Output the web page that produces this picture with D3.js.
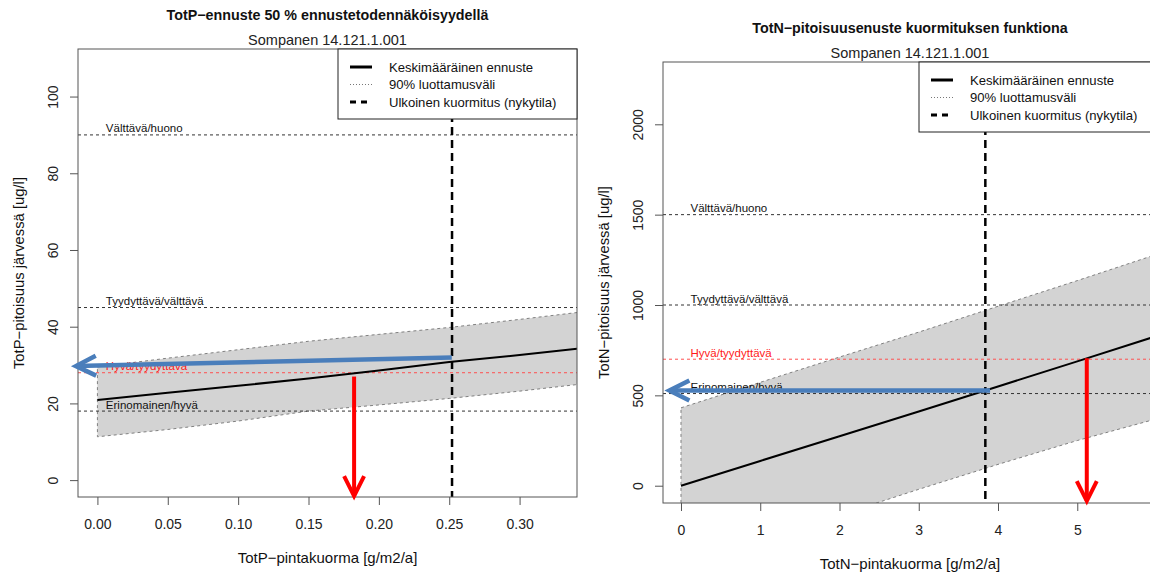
<!DOCTYPE html>
<html>
<head>
<meta charset="utf-8">
<script src="https://cdn.jsdelivr.net/npm/d3@7"></script>
<style>
  body { margin: 0; background: #fff; }
  svg { display: block; font-family: "Liberation Sans", Arial, sans-serif; }
</style>
</head>
<body>
<svg id="chart" width="1150" height="574"></svg>
<script>
// --- TotP: ennuste pintakuorman funktiona ---
const pLoad = [0, 0.05, 0.10, 0.15, 0.20, 0.25, 0.30, 0.35];
const pMean = [20.9, 22.8, 24.6, 26.5, 28.6, 30.8, 32.6, 34.6];
const pLow  = [11.3, 13.2, 15.4, 18.0, 19.6, 21.3, 23.2, 25.3];
const pHigh = [29.5, 31.8, 34.0, 36.2, 38.0, 39.8, 41.9, 44.1];
const pLimits = [18, 28, 45, 90];
const pCurrent = 0.252;
const pXTicks = [0, 0.05, 0.10, 0.15, 0.20, 0.25, 0.30];
const pYTicks = [0, 20, 40, 60, 80, 100];
const pBlueArrow = [[0.2518, 32.0], [-0.0181, 29.7]];
const pRedArrow  = [[0.1824, 27.0], [0.1824, -5.2]];

// --- TotN ---
const nLoad = [0, 1, 2, 3, 4, 5, 6];
const nMean = [0, 137, 274, 411, 549, 688, 828];
const nLow  = [-440, -300, -162, -20, 118, 250, 370];
const nHigh = [431, 572, 712, 850, 993, 1135, 1280];
const nLimits = [510, 700, 1000, 1500];
const nCurrent = 3.84;
const nXTicks = [0, 1, 2, 3, 4, 5];
const nYTicks = [0, 500, 1000, 1500, 2000];
const nBlueArrow = [[3.9, 527], [-0.197, 527]];
const nRedArrow  = [[5.12, 705], [5.12, -107]];

const classNames = ["Erinomainen/hyvä", "Hyvä/tyydyttävä", "Tyydyttävä/välttävä", "Välttävä/huono"];
const legendLabels = ["Keskimääräinen ennuste", "90% luottamusväli", "Ulkoinen kuormitus (nykytila)"];

const svg = d3.select("#chart");

function arrow(g, from, to, color, width) {
  const [x1, y1] = from, [x2, y2] = to;
  const a = Math.atan2(y2 - y1, x2 - x1);
  const dx = Math.cos(a), dy = Math.sin(a);
  const tx = x2 - 4 * dx, ty = y2 - 4 * dy;   // miter pokes out past the vertex
  const bx = tx - 20 * dx, by = ty - 20 * dy;
  g.append("line").attr("x1", x1).attr("y1", y1).attr("x2", tx).attr("y2", ty)
    .attr("stroke", color).attr("stroke-width", width);
  g.append("path")
    .attr("d", `M${bx - 10 * dy},${by + 10 * dx}L${tx},${ty}L${bx + 10 * dy},${by - 10 * dx}`)
    .attr("fill", "none").attr("stroke", color).attr("stroke-width", width)
    .attr("stroke-linejoin", "miter");
}

function drawPanel(p) {
  const g = svg.append("g");
  const x = d3.scaleLinear().domain(p.xDomain).range([p.box.l, p.box.r]);
  const y = d3.scaleLinear().domain(p.yDomain).range([p.box.b, p.box.t]);
  const cx = (p.box.l + p.box.r) / 2;

  svg.append("clipPath").attr("id", "clip-" + p.id).append("rect")
    .attr("x", p.box.l).attr("y", p.box.t)
    .attr("width", p.box.r - p.box.l).attr("height", p.box.b - p.box.t);
  const plot = g.append("g").attr("clip-path", `url(#clip-${p.id})`);

  const rows = p.load.map((v, i) => ({ x: v, mean: p.mean[i], low: p.low[i], high: p.high[i] }));

  // luottamusväli
  const band = rows.map(d => [x(d.x), y(d.high)])
    .concat(rows.slice().reverse().map(d => [x(d.x), y(d.low)]));
  plot.append("path").attr("d", d3.line()(band) + "Z")
    .attr("fill", "#d3d3d3").attr("stroke", "#808080")
    .attr("stroke-width", 1).attr("stroke-dasharray", "3,3");

  // luokkarajat
  p.limits.forEach((v, i) => {
    const red = i === 1;
    plot.append("line")
      .attr("x1", p.box.l).attr("x2", p.box.r).attr("y1", y(v)).attr("y2", y(v))
      .attr("stroke", red ? "#ff5050" : "#333").attr("stroke-width", 1)
      .attr("stroke-dasharray", "3,3");
    g.append("text").attr("x", x(p.labelX)).attr("y", y(v) - 2.5)
      .attr("font-size", 11.5).attr("fill", red ? "#ff1a1a" : "#111")
      .text(classNames[i]);
  });

  // keskimääräinen ennuste
  plot.append("path").datum(rows)
    .attr("d", d3.line().x(d => x(d.x)).y(d => y(d.mean)))
    .attr("fill", "none").attr("stroke", "#000").attr("stroke-width", 2);

  // nykyinen kuormitus
  g.append("line").attr("x1", x(p.current)).attr("x2", x(p.current))
    .attr("y1", p.box.t).attr("y2", p.box.b)
    .attr("stroke", "#000").attr("stroke-width", 2.5).attr("stroke-dasharray", "8,5");

  // kehys
  g.append("rect").attr("x", p.box.l).attr("y", p.box.t)
    .attr("width", p.box.r - p.box.l).attr("height", p.box.b - p.box.t)
    .attr("fill", "none").attr("stroke", "#555").attr("stroke-width", 1);

  // akselit
  const xa = g.append("g").attr("transform", `translate(0,${p.box.b})`)
    .call(d3.axisBottom(x).tickValues(p.xTicks).tickFormat(p.xFmt).tickSize(8));
  xa.select(".domain").remove();
  xa.selectAll("line").attr("stroke", "#555");
  xa.selectAll("text").attr("y", 32).attr("dy", null)
    .attr("font-size", 14).attr("font-family", null).attr("fill", "#222");

  const ya = g.append("g").attr("transform", `translate(${p.box.l},0)`)
    .call(d3.axisLeft(y).tickValues(p.yTicks).tickFormat(d3.format("d")).tickSize(8));
  ya.select(".domain").remove();
  ya.selectAll("line").attr("stroke", "#555");
  ya.selectAll("text").attr("x", null).attr("dy", "0.35em")
    .attr("text-anchor", "middle").attr("transform", "translate(-25,0) rotate(-90)")
    .attr("font-size", 14).attr("font-family", null).attr("fill", "#222");

  g.append("text").attr("x", cx).attr("y", p.box.b + 65.5).attr("text-anchor", "middle")
    .attr("font-size", 15).attr("fill", "#111").text(p.xTitle);
  g.append("text").attr("transform", `translate(${p.box.l - 59},${(p.box.t + p.box.b) / 2}) rotate(-90)`)
    .attr("dy", "0.35em").attr("text-anchor", "middle")
    .attr("font-size", 14.8).attr("fill", "#111").text(p.yTitle);

  // otsikot
  g.append("text").attr("x", cx).attr("y", p.titleY).attr("text-anchor", "middle")
    .attr("font-size", 14.3).attr("font-weight", "bold").attr("fill", "#111").text(p.title);
  g.append("text").attr("x", cx).attr("y", p.box.t - 4).attr("text-anchor", "middle")
    .attr("font-size", 14.5).attr("fill", "#222").text("Sompanen 14.121.1.001");

  // selite
  const lg = g.append("g").attr("transform", `translate(${p.legendLeft},${p.box.t})`);
  lg.append("rect").attr("width", p.box.r - p.legendLeft).attr("height", 70)
    .attr("fill", "#fff").attr("stroke", "#222").attr("stroke-width", 1);
  const legendStyles = [
    { stroke: "#000", width: 3, dash: null },
    { stroke: "#777", width: 1, dash: "1,2" },
    { stroke: "#000", width: 3, dash: "6,5" }
  ];
  legendLabels.forEach((t, i) => {
    const ry = 18 + i * 17.5;
    lg.append("line").attr("x1", 12).attr("x2", 34).attr("y1", ry).attr("y2", ry)
      .attr("stroke", legendStyles[i].stroke).attr("stroke-width", legendStyles[i].width)
      .attr("stroke-dasharray", legendStyles[i].dash);
    lg.append("text").attr("x", 51).attr("y", ry + 4.5).attr("font-size", 13.1)
      .attr("fill", "#111").text(t);
  });

  // nuolet
  const pt = d => [x(d[0]), y(d[1])];
  arrow(g, pt(p.blue[0]), pt(p.blue[1]), "#4a7ebb", 4.5);
  arrow(g, pt(p.red[0]), pt(p.red[1]), "#ff0000", 4);
}

drawPanel({
  id: "p",
  box: { l: 78, r: 577, t: 49, b: 497 },
  xDomain: [-0.0138, 0.3408], yDomain: [-4.4, 112.4],
  load: pLoad, mean: pMean, low: pLow, high: pHigh,
  limits: pLimits, labelX: 0.006, current: pCurrent,
  xTicks: pXTicks, yTicks: pYTicks, xFmt: d3.format(".2f"),
  blue: pBlueArrow, red: pRedArrow,
  title: "TotP\u2212ennuste 50 % ennustetodennäköisyydellä", titleY: 20,
  xTitle: "TotP\u2212pintakuorma [g/m2/a]", yTitle: "TotP\u2212pitoisuus järvessä [ug/l]",
  legendLeft: 338
});

drawPanel({
  id: "n",
  box: { l: 663, r: 1157, t: 62, b: 503 },
  xDomain: [-0.227, 6.006], yDomain: [-95.7, 2344.8],
  load: nLoad, mean: nMean, low: nLow, high: nHigh,
  limits: nLimits, labelX: 0.12, current: nCurrent,
  xTicks: nXTicks, yTicks: nYTicks, xFmt: d3.format("d"),
  blue: nBlueArrow, red: nRedArrow,
  title: "TotN\u2212pitoisuusenuste kuormituksen funktiona", titleY: 33,
  xTitle: "TotN\u2212pintakuorma [g/m2/a]", yTitle: "TotN\u2212pitoisuus järvessä [ug/l]",
  legendLeft: 919
});
</script>
</body>
</html>
